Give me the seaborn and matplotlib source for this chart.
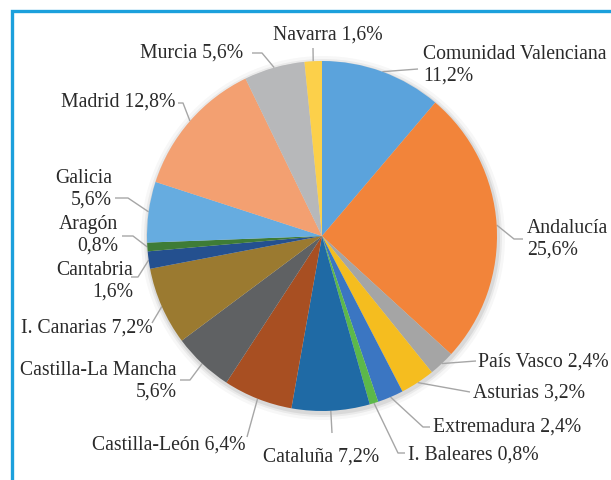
import numpy as np
import matplotlib.pyplot as plt
import matplotlib.patches as mpatches
import seaborn as sns

# datos: reparto por comunidad autónoma (%), en el orden del gráfico (horario desde arriba)
regions = ['Comunidad Valenciana', 'Andalucía', 'País Vasco', 'Asturias', 'Extremadura',
           'I. Baleares', 'Cataluña', 'Castilla-León', 'Castilla-La Mancha', 'I. Canarias',
           'Cantabria', 'Aragón', 'Galicia', 'Madrid', 'Murcia', 'Navarra']
shares = [11.2, 25.6, 2.4, 3.2, 2.4, 0.8, 7.2, 6.4, 5.6, 7.2, 1.6, 0.8, 5.6, 12.8, 5.6, 1.6]
colors = ['#5ba3dc', '#f2843a', '#a5a5a5', '#f5bd1f', '#3b76c2', '#5cb84a', '#1f6aa5', '#a84f22',
          '#5f6163', '#9b7a30', '#24508f', '#3e7c36', '#66ace0', '#f3a071', '#b7b8ba', '#fcd04a']

sns.set_theme(style='white')
plt.rcParams['font.family'] = ['Liberation Serif', 'DejaVu Serif']

W, H = 611, 480
CX, CY, R = 322, 236, 175          # centro / radio en píxeles (y hacia abajo)
LINE = '#a6a6a6'
TXT = '#2a2a2a'

def Y(y):
    return H - y

# posición de etiquetas: (x, y, ha, separador, codos de la línea guía)
layout = [
    (423, 65, 'left', '\n', [(418, 69)]),
    (527, 239, 'left', '\n', [(514, 239), (523, 239)]),
    (478, 362, 'left', ' ', [(476, 361)]),
    (473, 393, 'left', ' ', [(470, 392)]),
    (433, 427, 'left', ' ', [(423, 427), (430, 427)]),
    (408, 455, 'left', ' ', [(398, 453), (405, 453)]),
    (321, 457, 'center', ' ', [(332, 433)]),
    (245, 445, 'right', ' ', [(247, 437)]),
    (177, 381, 'right', '\n', [(190, 380), (180, 380)]),
    (153, 328, 'right', ' ', [(152, 323)]),
    (133, 281, 'right', '\n', [(138, 277), (131, 277)]),
    (118, 235, 'right', '\n', [(133, 236), (122, 236)]),
    (112, 189, 'right', '\n', [(128, 198), (115, 198)]),
    (175, 102, 'right', ' ', [(183, 103), (178, 103)]),
    (243, 53, 'right', ' ', [(262, 53), (252, 53)]),
    (328, 35, 'center', ' ', [(313, 48)]),
]

fig = plt.figure(figsize=(W / 100, H / 100), dpi=100)
ax = fig.add_axes([0, 0, 1, 1])

# sombra suave
for rr, a in [(182, 0.03), (179, 0.05), (177, 0.07)]:
    ax.add_patch(mpatches.Circle((CX + 1, Y(CY + 2)), rr, color='black', alpha=a, lw=0, zorder=0))

pal = sns.color_palette(colors)
wedges, _ = ax.pie(shares, colors=pal, startangle=90, counterclock=False,
                   center=(CX, Y(CY)), radius=R, wedgeprops=dict(linewidth=0))

for w, name, val, (tx, ty, ha, sep, pts) in zip(wedges, regions, shares, layout):
    th = np.deg2rad((w.theta1 + w.theta2) / 2)
    x0, y0 = CX + R * np.cos(th), Y(CY) + R * np.sin(th)
    xs = [x0] + [p[0] for p in pts]
    ys = [y0] + [Y(p[1]) for p in pts]
    ax.plot(xs, ys, color=LINE, lw=1.0, zorder=0.5, solid_capstyle='butt')
    pct = f'{val:.1f}%'.replace('.', ',')
    ax.text(tx, Y(ty), f'{name}{sep}{pct}', ha=ha, va='center', multialignment=ha,
            fontsize=14.2, color=TXT)

# marco azul
ax.plot([12, 12, W + 20], [-20, Y(11), Y(11)], color='#1ca0dc', lw=2.4,
        solid_joinstyle='miter', clip_on=False)

ax.set_xlim(0, W)
ax.set_ylim(0, H)
ax.set_aspect('equal')
ax.axis('off')

fig.savefig('out.png', dpi=100)
